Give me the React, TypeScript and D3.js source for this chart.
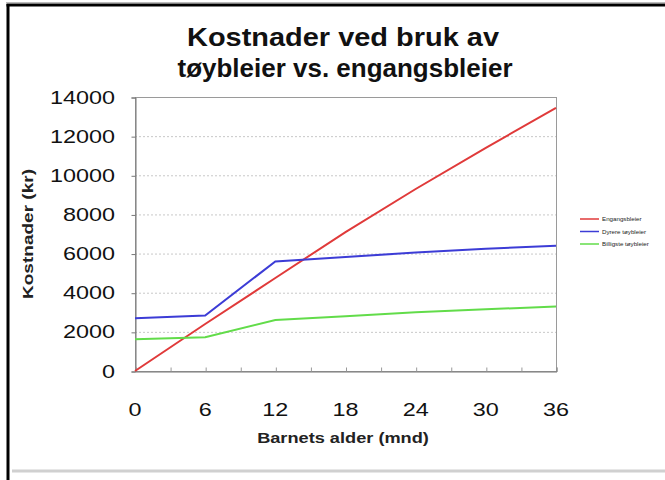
import React, { useEffect, useRef } from "react";
import * as d3 from "d3";

const months = [0, 6, 12, 18, 24, 30, 36];
const engangs = [0, 2400, 4750, 7100, 9300, 11400, 13450];
const dyrere = [2700, 2830, 5600, 5830, 6050, 6250, 6400];
const billige = [1620, 1730, 2600, 2800, 3000, 3150, 3300];
const seriesNames = ["Engangsbleier", "Dyrere tøybleier", "Billigste tøybleier"];
const seriesColors = ["#e03a3a", "#3c3cd6", "#62dc4a"];
const yTicks = [0, 2000, 4000, 6000, 8000, 10000, 12000, 14000];
const xTicks = [0, 6, 12, 18, 24, 30, 36];

const App: React.FC = () => {
  const svgRef = useRef<SVGSVGElement | null>(null);

  useEffect(() => {
    const width = 665;
    const height = 480;
    const svg = d3.select(svgRef.current);
    svg.selectAll("*").remove();
    svg.attr("width", width).attr("height", height);

    const font = "'Liberation Sans', Arial, sans-serif";
    const stretch = 1.3; // the original's text is drawn wide

    svg.append("rect").attr("width", width).attr("height", height).attr("fill", "#fff");

    // outer frame (cut off on right/bottom)
    svg.append("line").attr("x1", 6).attr("x2", width).attr("y1", 2.5).attr("y2", 2.5)
      .attr("stroke", "#bbb").attr("stroke-width", 1);
    svg.append("line").attr("x1", 6.5).attr("x2", width).attr("y1", 5).attr("y2", 5)
      .attr("stroke", "#000").attr("stroke-width", 3);
    svg.append("line").attr("x1", 8).attr("x2", 8).attr("y1", 4).attr("y2", height)
      .attr("stroke", "#000").attr("stroke-width", 3);
    svg.append("line").attr("x1", 12).attr("x2", width).attr("y1", 471).attr("y2", 471)
      .attr("stroke", "#d0d0d0").attr("stroke-width", 3);

    const x = d3.scaleLinear().domain([0, 36]).range([135, 556]);
    const y = d3.scaleLinear().domain([0, 14000]).range([371, 97]);

    // gridlines
    svg.append("g").selectAll("line")
      .data(yTicks.slice(1))
      .join("line")
      .attr("x1", x(0)).attr("x2", x(36))
      .attr("y1", d => y(d) + 0.5).attr("y2", d => y(d) + 0.5)
      .attr("stroke", "#c8c8c8").attr("stroke-dasharray", "2,2");

    // plot frame
    svg.append("rect")
      .attr("x", x(0) + 0.5).attr("y", y(14000) + 0.5)
      .attr("width", x(36) - x(0)).attr("height", y(0) - y(14000))
      .attr("fill", "none").attr("stroke", "#9a9a9a");

    // axes (lines and ticks only, labels drawn below)
    const yAxis = d3.axisLeft(y).tickValues(yTicks).tickSize(4).tickFormat(() => "");
    const gy = svg.append("g").attr("transform", `translate(${x(0) + 0.5},0.5)`).call(yAxis);
    gy.select(".domain").attr("stroke", "#777");
    gy.selectAll(".tick line").attr("stroke", "#777");

    const xMinor = d3.range(0, 37, 3);
    const xAxis = d3.axisBottom(x).tickValues(xMinor).tickSize(-4).tickFormat(() => "");
    const gx = svg.append("g").attr("transform", `translate(0.5,${y(0) + 0.5})`).call(xAxis);
    gx.select(".domain").attr("stroke", "#777");
    gx.selectAll(".tick line").attr("stroke", "#999");

    // tick labels, stretched horizontally
    svg.append("g").selectAll("text")
      .data(yTicks)
      .join("text")
      .attr("transform", d => `translate(115,${y(d) + 6.5}) scale(${stretch},1)`)
      .attr("text-anchor", "end")
      .attr("font-family", font).attr("font-size", 18).attr("fill", "#111")
      .text(d => String(d));
    svg.append("g").selectAll("text")
      .data(xTicks)
      .join("text")
      .attr("transform", d => `translate(${x(d)},${416}) scale(${stretch},1)`)
      .attr("text-anchor", "middle")
      .attr("font-family", font).attr("font-size", 18).attr("fill", "#111")
      .text(d => String(d));

    // lines
    const allSeries = [engangs, dyrere, billige];
    const line = d3.line<number>()
      .x((_, i) => x(months[i]))
      .y(d => y(d));
    allSeries.forEach((s, i) => {
      svg.append("path")
        .datum(s)
        .attr("d", line)
        .attr("fill", "none")
        .attr("stroke", seriesColors[i])
        .attr("stroke-width", 2);
    });

    // title
    const title = svg.append("text")
      .attr("text-anchor", "middle")
      .attr("font-family", font).attr("font-weight", "bold").attr("font-size", 26)
      .attr("fill", "#111");
    title.append("tspan").attr("x", 343).attr("y", 46)
      .attr("textLength", 312).attr("lengthAdjust", "spacingAndGlyphs")
      .text("Kostnader ved bruk av");
    title.append("tspan").attr("x", 345).attr("y", 77)
      .attr("textLength", 335).attr("lengthAdjust", "spacingAndGlyphs")
      .text("tøybleier vs. engangsbleier");

    // axis titles
    svg.append("text")
      .attr("transform", `translate(343,443) scale(${stretch},1)`)
      .attr("text-anchor", "middle")
      .attr("font-family", font).attr("font-weight", "bold").attr("font-size", 14)
      .attr("fill", "#222").text("Barnets alder (mnd)");
    svg.append("text")
      .attr("transform", `translate(33,234) rotate(-90)`)
      .attr("text-anchor", "middle")
      .attr("font-family", font).attr("font-weight", "bold").attr("font-size", 14)
      .attr("textLength", 130).attr("lengthAdjust", "spacingAndGlyphs")
      .attr("fill", "#222").text("Kostnader (kr)");

    // legend
    const legend = svg.append("g").attr("transform", "translate(580,219)");
    seriesNames.forEach((name, i) => {
      const row = legend.append("g").attr("transform", `translate(0,${i * 12.5})`);
      row.append("line").attr("x1", 0).attr("x2", 19).attr("y1", 0).attr("y2", 0)
        .attr("stroke", seriesColors[i]).attr("stroke-width", 1.5);
      row.append("text").attr("x", 22).attr("y", 2.2)
        .attr("font-family", font).attr("font-size", 6.2).attr("fill", "#222")
        .text(name);
    });
  }, []);

  return (
    <div style={{ position: "absolute", left: 0, top: 0 }}>
      <svg ref={svgRef} style={{ display: "block" }}></svg>
    </div>
  );
};

export default App;
